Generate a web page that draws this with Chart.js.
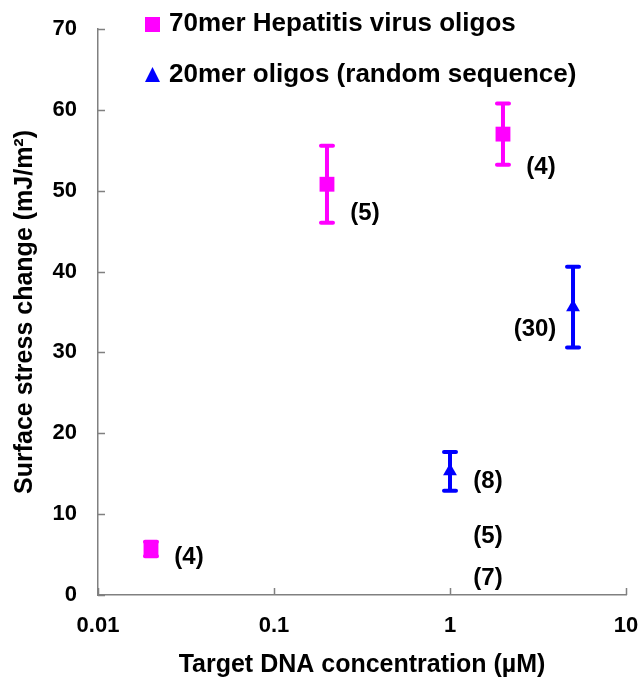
<!DOCTYPE html>
<html>
<head>
<meta charset="utf-8">
<script src="https://cdn.jsdelivr.net/npm/chart.js@4"></script>
<style>
  html, body { margin: 0; padding: 0; background: #fff; }
  #wrap { width: 640px; height: 682px; }
</style>
</head>
<body>
<div id="wrap"><canvas id="chart" width="640" height="682"></canvas></div>
<script>
const seriesNames = ["70mer Hepatitis virus oligos", "20mer oligos (random sequence)"];
const hepConc = [0.02, 0.2, 2];
const hepStress = [5.7, 50.8, 57.0];
const hepErr = [0.9, 4.75, 3.8];
const randConc = [1, 5];
const randStress = [15.3, 35.6];
const randErr = [2.4, 5.0];
const xTicks = [0.01, 0.1, 1, 10];
const yTicks = [0, 10, 20, 30, 40, 50, 60, 70];

// number of measurements written next to each point
const countText = ["(4)", "(5)", "(4)", "(30)", "(8)", "(5)", "(7)"];
const countConc = [0.02, 0.2, 2, 5, 1, 1, 1];
const countStress = [4.7, 47.2, 52.9, 32.8, 14.1, 7.3, 2.1];
const countSide = [1, 1, 1, -1, 1, 1, 1];

const MAGENTA = "#ff00ff";
const BLUE = "#0000ff";
const FONT = "'Liberation Sans', Arial, sans-serif";

const extras = {
  id: "extras",
  beforeDatasetsDraw(chart) {
    const { ctx, scales: { x, y } } = chart;
    ctx.save();
    ctx.lineWidth = 4;
    ctx.lineCap = "round";
    const bars = (conc, val, err, color) => {
      ctx.strokeStyle = color;
      conc.forEach((c, i) => {
        const px = x.getPixelForValue(c);
        const top = y.getPixelForValue(val[i] + err[i]);
        const bot = y.getPixelForValue(val[i] - err[i]);
        ctx.beginPath();
        ctx.moveTo(px, top); ctx.lineTo(px, bot);
        ctx.moveTo(px - 6, top); ctx.lineTo(px + 6, top);
        ctx.moveTo(px - 6, bot); ctx.lineTo(px + 6, bot);
        ctx.stroke();
      });
    };
    bars(hepConc, hepStress, hepErr, MAGENTA);
    bars(randConc, randStress, randErr, BLUE);
    ctx.restore();
  },
  afterDraw(chart) {
    const { ctx, scales: { x, y } } = chart;
    ctx.save();
    // inside tick marks
    ctx.strokeStyle = "#808080";
    ctx.lineWidth = 1.5;
    ctx.beginPath();
    yTicks.forEach(t => {
      const py = Math.round(y.getPixelForValue(t)) + 0.5;
      ctx.moveTo(x.left, py); ctx.lineTo(x.left + 7, py);
    });
    xTicks.forEach(t => {
      const px = Math.round(x.getPixelForValue(t)) + 0.5;
      ctx.moveTo(px, y.bottom); ctx.lineTo(px, y.bottom - 7);
    });
    ctx.stroke();

    // x tick labels drawn here so they do not squeeze the plot
    ctx.fillStyle = "#000";
    ctx.font = "bold 22px " + FONT;
    ctx.textAlign = "center";
    ctx.textBaseline = "middle";
    xTicks.forEach(t => {
      ctx.fillText(String(t), x.getPixelForValue(t), y.bottom + 31);
    });

    // counts
    ctx.font = "bold 24px " + FONT;
    countText.forEach((t, i) => {
      const px = x.getPixelForValue(countConc[i]) + countSide[i] * 38;
      const py = y.getPixelForValue(countStress[i]);
      ctx.fillText(t, px, py);
    });

    // legend inside plot
    ctx.font = "bold 26px " + FONT;
    ctx.textAlign = "left";
    ctx.fillStyle = MAGENTA;
    ctx.fillRect(145, 17, 15, 15);
    ctx.fillStyle = BLUE;
    ctx.beginPath();
    ctx.moveTo(152.5, 67); ctx.lineTo(160, 82); ctx.lineTo(145, 82); ctx.closePath();
    ctx.fill();
    ctx.fillStyle = "#000";
    ctx.fillText(seriesNames[0], 169, 24);
    ctx.fillText(seriesNames[1], 169, 75);
    ctx.restore();
  }
};

new Chart(document.getElementById("chart"), {
  type: "scatter",
  data: {
    datasets: [
      {
        label: seriesNames[0],
        data: hepConc.map((c, i) => ({ x: c, y: hepStress[i] })),
        pointStyle: "rect",
        pointRadius: 10.5,
        backgroundColor: MAGENTA,
        borderColor: MAGENTA,
        borderWidth: 0,
      },
      {
        label: seriesNames[1],
        data: randConc.map((c, i) => ({ x: c, y: randStress[i] })),
        pointStyle: "triangle",
        pointRadius: 8,
        backgroundColor: BLUE,
        borderColor: BLUE,
        borderWidth: 0,
      },
    ],
  },
  options: {
    responsive: false,
    animation: false,
    layout: { padding: { top: 29, right: 14, left: 0, bottom: 0 } },
    plugins: {
      legend: { display: false },
      tooltip: { enabled: false },
    },
    scales: {
      x: {
        type: "logarithmic",
        min: 0.01,
        max: 10,
        afterBuildTicks: s => { s.ticks = xTicks.map(v => ({ value: v })); },
        afterFit: s => { s.height = 87; },
        grid: { display: false },
        border: { display: true, color: "#808080", width: 1.5 },
        ticks: { display: false },
        title: {
          display: true,
          text: "Target DNA concentration (\u00b5M)",
          color: "#000",
          font: { family: FONT, size: 25, weight: "bold" },
          padding: { top: 0, bottom: 2 },
        },
      },
      y: {
        min: 0,
        max: 70,
        afterBuildTicks: s => { s.ticks = yTicks.map(v => ({ value: v })); },
        afterFit: s => { s.width = 98; },
        grid: { display: false },
        border: { display: true, color: "#808080", width: 1.5 },
        ticks: {
          color: "#000",
          padding: 13,
          font: { family: FONT, size: 22, weight: "bold" },
        },
        title: {
          display: true,
          text: "Surface stress change (mJ/m\u00b2)",
          color: "#000",
          font: { family: FONT, size: 25, weight: "bold" },
          padding: { top: 10, bottom: 0 },
        },
      },
    },
  },
  plugins: [extras],
});
</script>
</body>
</html>
